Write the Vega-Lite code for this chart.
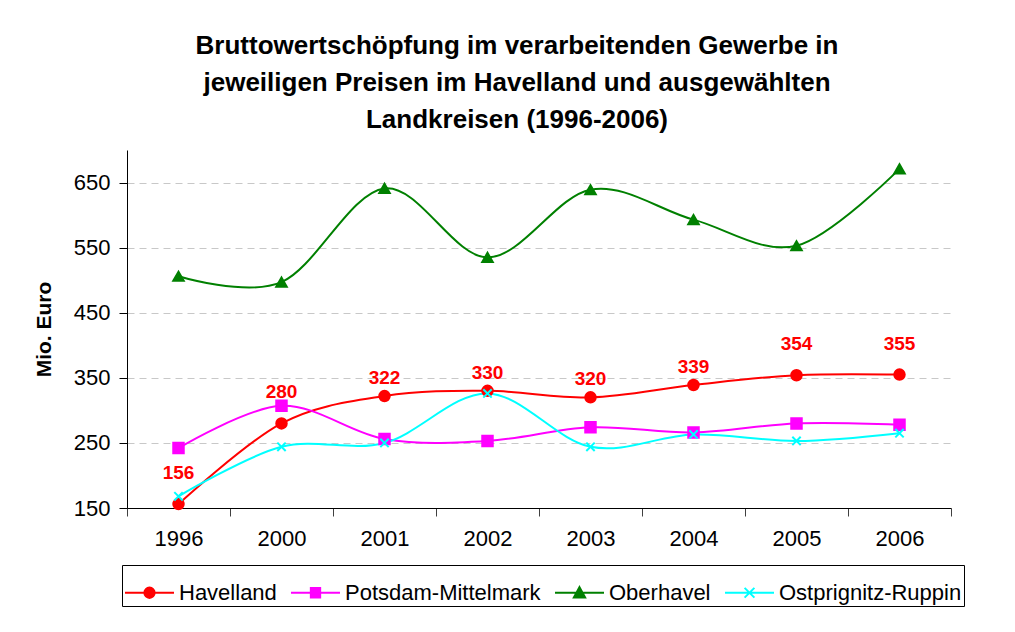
{
  "$schema": "https://vega.github.io/schema/vega-lite/v6.json",
  "width": 824,
  "height": 358,
  "autosize": "none",
  "padding": {"left": 127, "top": 150, "right": 64, "bottom": 124},
  "background": "white",
  "title": {
    "text": ["Bruttowertschöpfung im verarbeitenden Gewerbe in", "jeweiligen Preisen im Havelland und ausgewählten", "Landkreisen (1996-2006)"],
    "font": "Liberation Sans",
    "fontSize": 26,
    "fontWeight": "bold",
    "lineHeight": 37,
    "anchor": "middle",
    "dx": -22,
    "offset": 17,
    "color": "black"
  },
  "data": {
    "values": [
      {"year": "1996", "series": "Havelland", "value": 156},
      {"year": "2000", "series": "Havelland", "value": 280},
      {"year": "2001", "series": "Havelland", "value": 322},
      {"year": "2002", "series": "Havelland", "value": 330},
      {"year": "2003", "series": "Havelland", "value": 320},
      {"year": "2004", "series": "Havelland", "value": 339},
      {"year": "2005", "series": "Havelland", "value": 354},
      {"year": "2006", "series": "Havelland", "value": 355},
      {"year": "1996", "series": "Potsdam-Mittelmark", "value": 242},
      {"year": "2000", "series": "Potsdam-Mittelmark", "value": 307},
      {"year": "2001", "series": "Potsdam-Mittelmark", "value": 256},
      {"year": "2002", "series": "Potsdam-Mittelmark", "value": 253},
      {"year": "2003", "series": "Potsdam-Mittelmark", "value": 274},
      {"year": "2004", "series": "Potsdam-Mittelmark", "value": 266},
      {"year": "2005", "series": "Potsdam-Mittelmark", "value": 280},
      {"year": "2006", "series": "Potsdam-Mittelmark", "value": 278},
      {"year": "1996", "series": "Oberhavel", "value": 506},
      {"year": "2000", "series": "Oberhavel", "value": 497},
      {"year": "2001", "series": "Oberhavel", "value": 641},
      {"year": "2002", "series": "Oberhavel", "value": 535},
      {"year": "2003", "series": "Oberhavel", "value": 639},
      {"year": "2004", "series": "Oberhavel", "value": 593},
      {"year": "2005", "series": "Oberhavel", "value": 553},
      {"year": "2006", "series": "Oberhavel", "value": 671},
      {"year": "1996", "series": "Ostprignitz-Ruppin", "value": 168},
      {"year": "2000", "series": "Ostprignitz-Ruppin", "value": 244},
      {"year": "2001", "series": "Ostprignitz-Ruppin", "value": 250},
      {"year": "2002", "series": "Ostprignitz-Ruppin", "value": 326},
      {"year": "2003", "series": "Ostprignitz-Ruppin", "value": 244},
      {"year": "2004", "series": "Ostprignitz-Ruppin", "value": 263},
      {"year": "2005", "series": "Ostprignitz-Ruppin", "value": 253},
      {"year": "2006", "series": "Ostprignitz-Ruppin", "value": 265}
    ]
  },
  "encoding": {
    "x": {
      "field": "year",
      "type": "ordinal",
      "bandPosition": 0.5,
      "scale": {"type": "band", "paddingInner": 0, "paddingOuter": 0},
      "axis": {
        "title": null,
        "labelAngle": 0,
        "tickBand": "extent",
        "tickSize": 8,
        "tickColor": "#404040",
        "domainColor": "black",
        "labelFont": "Liberation Sans",
        "labelFontSize": 22,
        "labelColor": "black",
        "labelPadding": 12,
        "grid": false
      }
    },
    "y": {
      "field": "value",
      "type": "quantitative",
      "scale": {"domain": [150, 700], "nice": false, "zero": false},
      "axis": {
        "values": [150, 250, 350, 450, 550, 650],
        "title": "Mio. Euro",
        "titleFont": "Liberation Sans",
        "titleFontSize": 21,
        "titleFontWeight": "bold",
        "titleColor": "black",
        "titlePadding": 19,
        "tickSize": 8,
        "tickColor": "black",
        "domainColor": "black",
        "labelFont": "Liberation Sans",
        "labelFontSize": 22,
        "labelColor": "black",
        "labelPadding": 9,
        "grid": true,
        "gridDash": [7, 5],
        "gridColor": "#c8c8c8"
      }
    }
  },
  "layer": [
    {
      "mark": {"type": "line", "interpolate": "cardinal", "tension": 0, "strokeWidth": 2},
      "encoding": {
        "stroke": {
          "field": "series",
          "type": "nominal",
          "scale": {"domain": ["Havelland", "Potsdam-Mittelmark", "Oberhavel", "Ostprignitz-Ruppin"], "range": ["#ff0000", "#ff00ff", "#008000", "#00ffff"]},
          "legend": null
        }
      }
    },
    {
      "mark": {"type": "point", "filled": true, "opacity": 1, "size": 110, "strokeWidth": 2},
      "encoding": {
        "fill": {
          "field": "series",
          "type": "nominal",
          "scale": {"domain": ["Havelland", "Potsdam-Mittelmark", "Oberhavel", "Ostprignitz-Ruppin"], "range": ["#ff0000", "#ff00ff", "#008000", "#00ffff"]},
          "legend": null
        },
        "stroke": {
          "field": "series",
          "type": "nominal",
          "scale": {"domain": ["Havelland", "Potsdam-Mittelmark", "Oberhavel", "Ostprignitz-Ruppin"], "range": ["#ff0000", "#ff00ff", "#008000", "#00ffff"]},
          "legend": null
        },
        "shape": {
          "field": "series",
          "type": "nominal",
          "scale": {"domain": ["Havelland", "Potsdam-Mittelmark", "Oberhavel", "Ostprignitz-Ruppin"], "range": ["circle", "square", "triangle-up", "M-0.8,-0.8L0.8,0.8M-0.8,0.8L0.8,-0.8"]},
          "legend": null
        }
      }
    },
    {
      "transform": [{"filter": {"field": "series", "equal": "Havelland"}}, {"filter": {"field": "year", "oneOf": ["1996", "2000", "2005", "2006"]}}],
      "mark": {"type": "text", "dy": -31, "font": "Liberation Sans", "fontSize": 19, "fontWeight": "bold", "color": "#ff0000", "baseline": "middle"},
      "encoding": {"text": {"field": "value", "type": "quantitative"}}
    },
    {
      "transform": [{"filter": {"field": "series", "equal": "Havelland"}}, {"filter": {"field": "year", "oneOf": ["2001", "2002", "2003", "2004"]}}],
      "mark": {"type": "text", "dy": -18, "font": "Liberation Sans", "fontSize": 19, "fontWeight": "bold", "color": "#ff0000", "baseline": "middle"},
      "encoding": {"text": {"field": "value", "type": "quantitative"}}
    },
    {
      "mark": {"type": "point", "filled": true, "opacity": 0, "size": 2400, "strokeWidth": 2},
      "encoding": {
        "fill": {
          "field": "series",
          "type": "nominal",
          "scale": {"domain": ["Havelland", "Potsdam-Mittelmark", "Oberhavel", "Ostprignitz-Ruppin"], "range": ["#ff0000", "#ff00ff", "#008000", "#00ffff"]},
          "legend": {
            "orient": "none",
            "legendX": -5,
            "legendY": 415,
            "direction": "horizontal",
            "title": null,
            "strokeColor": "black",
            "padding": 2,
            "symbolSize": 2400,
            "symbolOpacity": 1,
            "symbolStrokeWidth": 2,
            "labelFont": "Liberation Sans",
            "labelFontSize": 22,
            "labelColor": "black",
            "labelOffset": 4,
            "columnPadding": 10,
            "labelLimit": 400,
            "encode": {"symbols": {"update": {"opacity": {"value": 1}, "fillOpacity": {"value": 1}, "strokeOpacity": {"value": 1}}}}
          }
        },
        "stroke": {
          "field": "series",
          "type": "nominal",
          "scale": {"domain": ["Havelland", "Potsdam-Mittelmark", "Oberhavel", "Ostprignitz-Ruppin"], "range": ["#ff0000", "#ff00ff", "#008000", "#00ffff"]}
        },
        "shape": {
          "field": "series",
          "type": "nominal",
          "scale": {"domain": ["Havelland", "Potsdam-Mittelmark", "Oberhavel", "Ostprignitz-Ruppin"], "range": [
            "M-1,0H1M0.21,0A0.21,0.21,0,1,1,-0.21,0A0.21,0.21,0,1,1,0.21,0Z",
            "M-1,0H1M-0.19,-0.19H0.19V0.19H-0.19Z",
            "M-1,0H1M0,-0.23L0.23,0.19H-0.23Z",
            "M-1,0H1M-0.2,-0.2L0.2,0.2M-0.2,0.2L0.2,-0.2"
          ]}
        }
      }
    }
  ],
  "resolve": {"scale": {"shape": "independent", "fill": "independent", "stroke": "independent"}, "legend": {"shape": "independent", "fill": "independent", "stroke": "independent"}},
  "config": {"view": {"stroke": null}}
}
